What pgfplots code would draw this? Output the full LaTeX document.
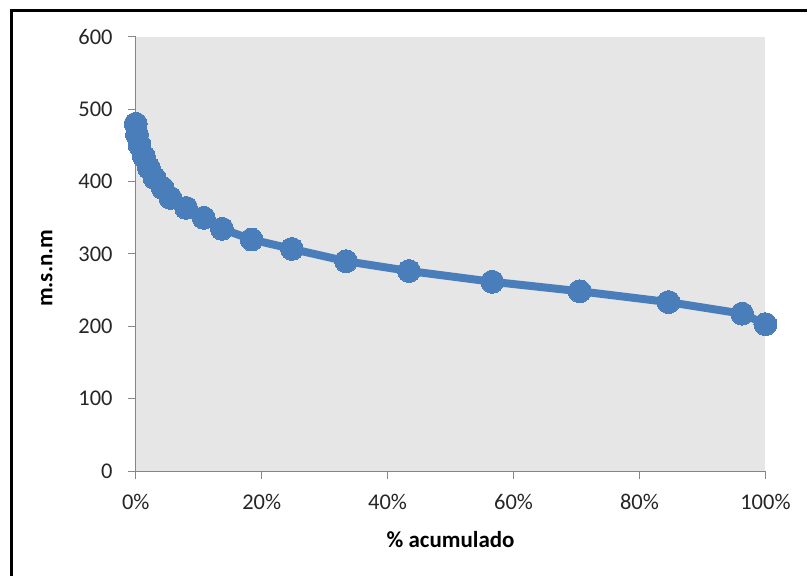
\documentclass[border=0pt]{standalone}
\usepackage{pgfplots}
\pgfplotsset{compat=1.18}
\usepackage{fontspec}
\setmainfont{Carlito}
\definecolor{serie}{RGB}{74,126,187}
\definecolor{axgray}{RGB}{134,134,134}
\definecolor{bggray}{RGB}{230,230,230}
\begin{document}
\begin{tikzpicture}[x=1pt,y=1pt]
\path (0,0) rectangle (809,577);
\begin{axis}[
  at={(136pt,105pt)}, anchor=south west,
  width=631pt, height=435pt, scale only axis,
  xmin=0, xmax=100, ymin=0, ymax=600,
  axis line style={draw=none},
  axis background/.style={fill=bggray},
  xtick={0,20,40,60,80,100},
  xticklabels={0\%,20\%,40\%,60\%,80\%,100\%},
  ytick={0,100,200,300,400,500,600},
  xtick pos=bottom, ytick pos=left,
  tick align=outside,
  major tick length=8pt,
  every tick/.style={draw=axgray, line width=1pt},
  /pgf/number format/assume math mode=true,
  ticklabel style={font=\fontsize{22.5}{26}\selectfont, text=black!85, inner sep=0pt},
  xticklabel style={yshift=-15pt},
  yticklabel style={xshift=-15pt},
  xlabel={\textbf{\% acumulado}},
  ylabel={\textbf{m.s.n.m}},
  label style={font=\fontsize{23}{27}\selectfont},
  xlabel style={at={(axis description cs:0.5,0)}, anchor=center, yshift=-69pt},
  ylabel style={at={(axis description cs:0,0.467)}, anchor=center, rotate=0, yshift=89pt},
  clip=false,
]
\draw[axgray, line width=1pt] (rel axis cs:0,1) -- (rel axis cs:0,0) -- (rel axis cs:1,0);
\addplot[serie, line width=8pt, mark=*, mark size=11.5pt, mark options={fill=serie, draw=serie, line width=0pt}] coordinates {
(0,480) (0.2,465) (0.6,451) (1.3,435) (2.1,419) (3.0,405) (4.3,391) (5.5,377.5)
(8.0,363.7) (10.8,350) (13.7,334.8) (18.4,320) (24.8,307) (33.4,290) (43.4,276.5)
(56.6,261.6) (70.5,248.5) (84.6,233.5) (96.3,217.5) (100,203)
};
\end{axis}
\draw[line width=3.3pt] (11.5,0) -- (11.5,566.5) -- (809,566.5);
\end{tikzpicture}
\end{document}
